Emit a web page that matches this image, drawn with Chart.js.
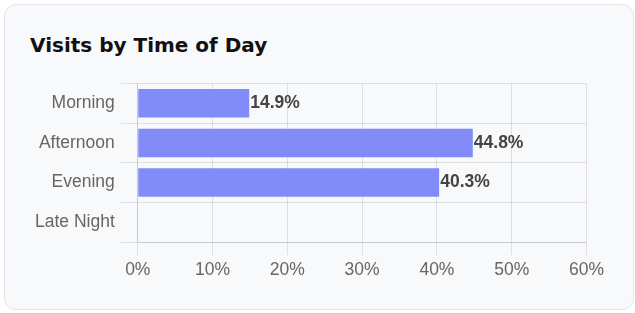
<!DOCTYPE html>
<html>
<head>
<meta charset="utf-8">
<script src="https://cdn.jsdelivr.net/npm/chart.js@4"></script>
<style>
  html, body { margin: 0; padding: 0; background: #fff; }
  .card {
    position: absolute; left: 4px; top: 4px; width: 628px; height: 304px;
    border: 1px solid #e3e5ea; border-radius: 12px; background: #f8f9fb;
  }
  .card h3 {
    position: absolute; left: 25px; top: 28px; margin: 0;
    font: 700 20px "DejaVu Sans", sans-serif; color: #111;
  }
  .wrap { position: absolute; left: 28.5px; top: 66.8px; width: 580px; height: 219px; }
</style>
</head>
<body>
<div class="card">
  <h3>Visits by Time of Day</h3>
</div>
<div class="wrap"><canvas id="visitsChart"></canvas></div>
<script>
var timeLabels = ["Morning", "Afternoon", "Evening", "Late Night"];
var visitShare = [14.9, 44.8, 40.3, 0];

var tickFont = { family: '"Liberation Sans", Arial', size: 17.5 };

// value at the end of each bar
var endLabels = {
  id: 'endLabels',
  afterDatasetsDraw: function(chart) {
    var c = chart.ctx;
    var meta = chart.getDatasetMeta(0);
    c.save();
    c.font = 'bold 17.5px "Liberation Sans", Arial, sans-serif';
    c.fillStyle = '#444';
    c.textAlign = 'left';
    c.textBaseline = 'middle';
    meta.data.forEach(function(bar, i) {
      if (!visitShare[i]) return;
      c.fillText(visitShare[i].toFixed(1) + '%', bar.x + 1, bar.y);
    });
    c.restore();
  }
};

var ctx = document.getElementById("visitsChart");
new Chart(ctx, {
  type: 'bar',
  data: {
    labels: timeLabels,
    datasets: [{
      label: "Visits",
      data: visitShare,
      backgroundColor: "#818cf8",
      borderWidth: 0
    }]
  },
  options: {
    indexAxis: 'y',
    responsive: true,
    maintainAspectRatio: false,
    animation: false,
    layout: { padding: 0 },
    plugins: {
      legend: { display: false },
      tooltip: { enabled: false }
    },
    scales: {
      x: {
        min: 0,
        max: 60,
        grid: { tickLength: 13 },
        ticks: {
          stepSize: 10,
          padding: 5,
          color: '#666',
          font: tickFont,
          callback: function(v) { return v + '%'; }
        }
      },
      y: {
        grid: { tickLength: 17 },
        ticks: {
          padding: 6,
          color: '#666',
          font: tickFont
        }
      }
    }
  },
  plugins: [endLabels]
});
</script>
</body>
</html>
